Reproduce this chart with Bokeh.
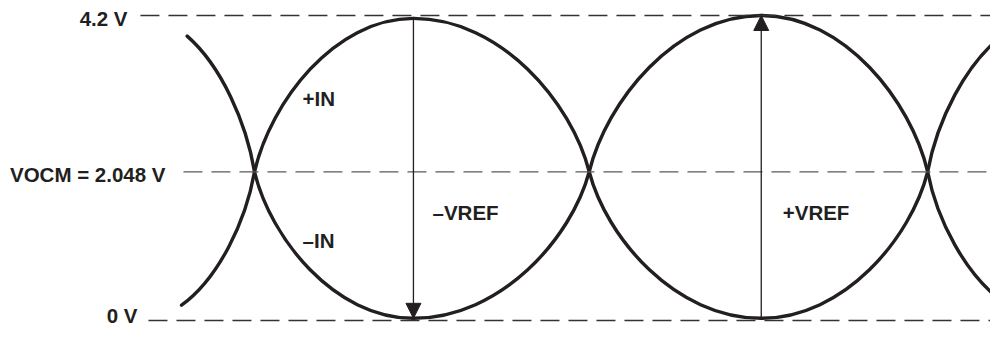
from bokeh.plotting import figure
from bokeh.models import Range1d, Arrow, NormalHead
from bokeh.embed import file_html
from bokeh.resources import INLINE
from bokeh.core.properties import value

# ---------------- data ----------------
level_volts = [4.2, 2.048, 0.0]
level_labels = ["4.2 V", "VOCM = 2.048 V", "0 V"]
crossing_deg = [0, 179, 360]
extreme_deg = [-62, 85, 271, 428]          # outer two lie past the cut ends
pos_in_extremes = [0.0, 4.16, 0.03, 4.2]   # +IN
neg_in_extremes = [4.2, 0.03, 4.2, 0.0]    # -IN
pos_in_cut_deg = [-39, 401]
neg_in_cut_deg = [-36, 401]
trace_labels = ["+IN", "\u2013IN"]
vref_labels = ["\u2013VREF", "+VREF"]

INK = "#231f20"
FONT = value("Liberation Sans")
FSIZE = "20.5px"

p = figure(width=990, height=327, output_backend="svg", toolbar_location=None,
           x_range=Range1d(-135.83, 393.6), y_range=Range1d(-0.0964, 4.4066),
           min_border=0, outline_line_color=None, background_fill_color="white")
p.axis.visible = False
p.grid.visible = False

vocm = level_volts[1]

# ---- quarter-wave bezier helpers ----
A, B, C = 0.10, 0.45, 0.50


def quarter(xc, vc, xe, ve):
    dx, dy = xe - xc, ve - vc
    return [(xc, vc), (xc + A * dx, vc + B * dy), (xe - C * dx, ve), (xe, ve)]


def lerp(a, b, t):
    return (a[0] + (b[0] - a[0]) * t, a[1] + (b[1] - a[1]) * t)


def split_first(P, t):
    p01, p12, p23 = lerp(P[0], P[1], t), lerp(P[1], P[2], t), lerp(P[2], P[3], t)
    q1, q2 = lerp(p01, p12, t), lerp(p12, p23, t)
    return [P[0], p01, q1, lerp(q1, q2, t)]


def bez_x(P, t):
    s = 1 - t
    return s**3 * P[0][0] + 3 * s * s * t * P[1][0] + 3 * s * t * t * P[2][0] + t**3 * P[3][0]


def cut_quarter(P, xcut):
    lo, hi = 0.0, 1.0
    increasing = P[3][0] > P[0][0]
    for _ in range(60):
        mid = (lo + hi) / 2
        xm = bez_x(P, mid)
        if (xm < xcut) == increasing:
            lo = mid
        else:
            hi = mid
    return split_first(P, (lo + hi) / 2)


def trace_segments(extremes, cuts):
    segs = []
    segs.append(cut_quarter(quarter(crossing_deg[0], vocm, extreme_deg[0], extremes[0]), cuts[0]))
    for i in range(1, 3):
        segs.append(quarter(crossing_deg[i - 1], vocm, extreme_deg[i], extremes[i]))
        segs.append(quarter(crossing_deg[i], vocm, extreme_deg[i], extremes[i]))
    segs.append(cut_quarter(quarter(crossing_deg[2], vocm, extreme_deg[3], extremes[3]), cuts[1]))
    return segs


segs = trace_segments(pos_in_extremes, pos_in_cut_deg) + trace_segments(neg_in_extremes, neg_in_cut_deg)
p.bezier(x0=[s[0][0] for s in segs], y0=[s[0][1] for s in segs],
         x1=[s[3][0] for s in segs], y1=[s[3][1] for s in segs],
         cx0=[s[1][0] for s in segs], cy0=[s[1][1] for s in segs],
         cx1=[s[2][0] for s in segs], cy1=[s[2][1] for s in segs],
         line_color=INK, line_width=3.4, line_cap="round")

# ---- reference level dashed lines ----
line_start = [-61.0, -38.0, -56.7]
line_end = [400.0, 393.8, 400.0]
line_colors = ["#333333", "#5a5a5a", "#333333"]
p.segment(x0=line_start, y0=level_volts, x1=line_end, y1=level_volts,
          line_color=line_colors, line_width=1.3, line_dash="19 9")

# ---- level labels ----
p.text(x=[-67.9, -47.6, -62.6], y=[4.155, 2.014, 0.069], text=level_labels,
       text_align="right", text_baseline="middle", text_font=FONT,
       text_font_style="bold", text_font_size=FSIZE, text_color=INK)

# ---- trace labels ----
p.text(x=[25.7, 25.7], y=[3.061, 1.106], text=trace_labels,
       text_align="left", text_baseline="middle", text_font=FONT,
       text_font_style="bold", text_font_size=FSIZE, text_color=INK)

# ---- VREF arrows ----
arrow_specs = [
    (extreme_deg[1], pos_in_extremes[1], neg_in_extremes[1]),   # -VREF: down
    (extreme_deg[2], pos_in_extremes[2], level_volts[0]),       # +VREF: up
]
for x, ys, ye in arrow_specs:
    p.add_layout(Arrow(x_start=x, y_start=ys, x_end=x, y_end=ye,
                       line_color=INK, line_width=1.3,
                       end=NormalHead(size=15, fill_color=INK, line_color=INK, line_width=1)))

p.text(x=[95.2, 282.5], y=[1.494, 1.481], text=vref_labels,
       text_align="left", text_baseline="middle", text_font=FONT,
       text_font_style="bold", text_font_size=FSIZE, text_color=INK)

open("out.html", "w").write(file_html(p, INLINE))
